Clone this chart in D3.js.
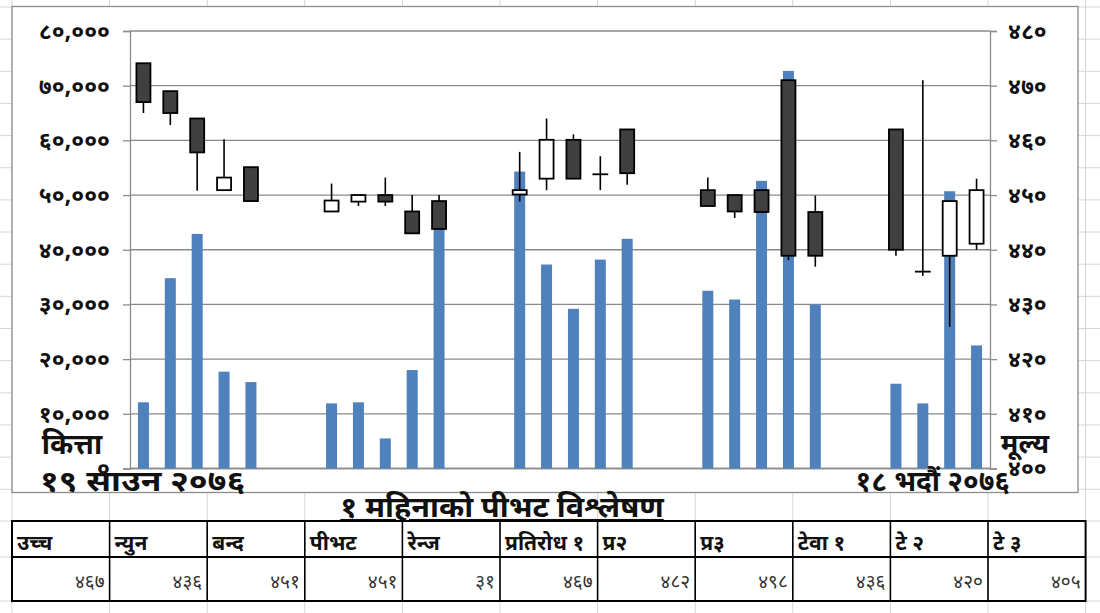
<!DOCTYPE html>
<html><head><meta charset="utf-8">
<script src="https://cdn.jsdelivr.net/npm/d3@7/dist/d3.min.js"></script>
<style>
html,body{margin:0;padding:0;background:#fff;}
svg{display:block;}
text{font-family:"Noto Sans Devanagari","Noto Serif Devanagari","Lohit Devanagari","Mangal","FreeSans","Noto Sans",sans-serif;}
</style></head>
<body>
<svg id="c" width="1100" height="613"></svg>
<script>
// ---- data ----
const categories = ["१९ साउन","२० साउन","२१ साउन","२२ साउन","२३ साउन","२४ साउन","२५ साउन","२६ साउन",
  "२७ साउन","२८ साउन","२९ साउन","३० साउन","३१ साउन","३२ साउन","१ भदौ","२ भदौ","३ भदौ","४ भदौ",
  "५ भदौ","६ भदौ","७ भदौ","८ भदौ","९ भदौ","१० भदौ","११ भदौ","१२ भदौ","१३ भदौ","१४ भदौ","१५ भदौ",
  "१६ भदौ","१७ भदौ","१८ भदौ"];
const volume = [12100,34800,42900,17700,15800,null,null,11900,12100,5500,18000,44000,null,null,
  54300,37300,29200,38200,42000,null,null,32500,30900,52600,72700,30000,null,null,15500,11900,50700,22500];
const open  = [474.1,469.0,464.0,450.9,455.1,null,null,447.0,448.8,450.0,447.0,448.9,null,null,
  450.1,453.0,460.1,453.8,462.0,null,null,450.9,450.0,450.9,471.0,446.9,null,null,462.0,436.0,438.9,441.1];
const high  = [474.1,469.0,464.0,460.2,455.1,null,null,452.1,450.0,453.2,450.0,450.0,null,null,
  457.9,464.0,461.1,457.1,462.0,null,null,453.2,450.0,450.9,471.0,449.9,null,null,462.0,471.0,448.9,453.0];
const low   = [465.0,462.8,450.8,450.9,448.9,null,null,447.0,448.0,448.0,443.0,443.8,null,null,
  448.8,450.9,453.0,450.9,451.9,null,null,448.0,445.8,446.9,438.1,436.9,null,null,438.9,435.2,425.9,440.0];
const close = [467.0,465.0,457.8,453.2,448.9,null,null,449.0,450.0,448.8,443.0,443.8,null,null,
  450.9,460.1,453.0,453.8,454.0,null,null,448.0,447.0,446.9,438.9,438.9,null,null,440.0,436.0,448.9,450.9];
const leftTicks = [0,10000,20000,30000,40000,50000,60000,70000,80000];
const leftTickLabels = ["०","१०,०००","२०,०००","३०,०००","४०,०००","५०,०००","६०,०००","७०,०००","८०,०००"];
const rightTicks = [400,410,420,430,440,450,460,470,480];
const rightTickLabels = ["४००","४१०","४२०","४३०","४४०","४५०","४६०","४७०","४८०"];
const leftAxisTitle = "कित्ता", rightAxisTitle = "मूल्य";
const startLabel = "१९ साउन २०७६", endLabel = "१८ भदौं २०७६";
const tableTitle = "१ महिनाको पीभट विश्लेषण";
const tableHeaders = ["उच्च","न्युन","बन्द","पीभट","रेन्ज","प्रतिरोध १","प्र२","प्र३","टेवा १","टे २","टे ३"];
const tableValues  = ["४६७","४३६","४५१","४५१","३१","४६७","४८२","४९८","४३६","४२०","४०५"];

// ---- layout ----
const svg = d3.select("#c");
const W = 1100, H = 613;
const plot = {l:130, r:990, t:31, b:468.5};
const colW = 97.6, col0 = 12;

// spreadsheet background grid
const sheet = svg.append("g").attr("stroke","#d6d6d6").attr("stroke-width",1);
const rowYs = d3.range(7, 490, 32.15).concat([521,557,601]);
rowYs.forEach(y=>sheet.append("line").attr("x1",0).attr("x2",W).attr("y1",y).attr("y2",y));
d3.range(0,12).forEach(i=>{const x=col0+i*colW; sheet.append("line").attr("x1",x).attr("x2",x).attr("y1",0).attr("y2",H);});

// chart box
svg.append("rect").attr("x",12).attr("y",6.5).attr("width",1066).attr("height",486)
  .attr("fill","#fff").attr("stroke","#8c8c8c").attr("stroke-width",1.3);

const x = d3.scaleBand().domain(categories).range([plot.l, plot.r]).padding(0);
const yL = d3.scaleLinear().domain([0,80000]).range([plot.b, plot.t]);
const yR = d3.scaleLinear().domain([400,480]).range([plot.b, plot.t]);

// gridlines
svg.append("g").selectAll("line").data(leftTicks).join("line")
  .attr("x1",plot.l).attr("x2",plot.r).attr("y1",d=>yL(d)).attr("y2",d=>yL(d))
  .attr("stroke","#8a8a8a").attr("stroke-width",1.3);

// axes
const ax = svg.append("g").attr("transform",`translate(${plot.l},0)`)
  .call(d3.axisLeft(yL).tickValues(leftTicks).tickFormat((d,i)=>leftTickLabels[i]).tickSize(7).tickPadding(13));
const axr = svg.append("g").attr("transform",`translate(${plot.r},0)`)
  .call(d3.axisRight(yR).tickValues(rightTicks).tickFormat((d,i)=>rightTickLabels[i]).tickSize(7).tickPadding(11));
[ax,axr].forEach(a=>{
  a.select(".domain").attr("stroke","#8a8a8a").attr("stroke-width",1.3);
  a.selectAll(".tick line").attr("stroke","#8a8a8a").attr("stroke-width",1.3);
  a.selectAll(".tick text").attr("font-size",23).attr("font-weight","bold").attr("fill","#111");
});
svg.append("line").attr("x1",plot.l).attr("x2",plot.r).attr("y1",plot.b).attr("y2",plot.b)
  .attr("stroke","#8a8a8a").attr("stroke-width",1.3);

// volume bars
const idx = d3.range(categories.length);
const barW = 11;
svg.append("g").selectAll("rect").data(idx.filter(i=>volume[i]!=null)).join("rect")
  .attr("x",i=>x(categories[i])+x.bandwidth()/2-barW/2).attr("width",barW)
  .attr("y",i=>yL(volume[i])).attr("height",i=>yL(0)-yL(volume[i]))
  .attr("fill","#4f81bd");

// candles
const cw = 14;
const cg = svg.append("g").selectAll("g").data(idx.filter(i=>open[i]!=null)).join("g");
cg.append("line")
  .attr("x1",i=>x(categories[i])+x.bandwidth()/2).attr("x2",i=>x(categories[i])+x.bandwidth()/2)
  .attr("y1",i=>yR(high[i])).attr("y2",i=>yR(low[i]))
  .attr("stroke","#000").attr("stroke-width",1.6);
cg.append("rect")
  .attr("x",i=>x(categories[i])+x.bandwidth()/2-cw/2).attr("width",cw)
  .attr("y",i=>yR(Math.max(open[i],close[i])))
  .attr("height",i=>Math.max(0.01,Math.abs(yR(open[i])-yR(close[i]))))
  .attr("fill",i=>close[i]<open[i]?"#404040":"#fff")
  .attr("stroke","#000").attr("stroke-width",1.8);

// axis titles and date labels
const lab = svg.append("g").attr("font-weight","bold").attr("fill","#111");
lab.append("text").attr("x",72).attr("y",454).attr("text-anchor","middle").attr("font-size",28).text(leftAxisTitle);
lab.append("text").attr("x",1025).attr("y",453).attr("text-anchor","middle").attr("font-size",27).text(rightAxisTitle);
lab.append("text").attr("transform","translate(40,491) scale(1.2,1)").attr("font-size",28).text(startLabel);
lab.append("text").attr("transform","translate(1010,491)").attr("text-anchor","end").attr("font-size",28).text(endLabel);

// table title
svg.append("text").attr("transform","translate(502,517) scale(1.05,1)").attr("text-anchor","middle")
  .attr("font-size",29).attr("font-weight","bold").attr("text-decoration","underline").attr("fill","#111")
  .text(tableTitle);

// table
const tb = svg.append("g");
const tTop = 521, tMid = 557, tBot = 601, tL = 12, tR = col0+11*colW;
tb.append("rect").attr("x",tL).attr("y",tTop).attr("width",tR-tL).attr("height",tBot-tTop)
  .attr("fill","none").attr("stroke","#000").attr("stroke-width",2);
tb.append("line").attr("x1",tL).attr("x2",tR).attr("y1",tMid).attr("y2",tMid).attr("stroke","#000").attr("stroke-width",2);
d3.range(1,11).forEach(i=>tb.append("line").attr("x1",col0+i*colW).attr("x2",col0+i*colW)
  .attr("y1",tTop).attr("y2",tBot).attr("stroke","#000").attr("stroke-width",1.6));
tb.selectAll("text.h").data(tableHeaders).join("text").attr("class","h")
  .attr("x",(d,i)=>col0+i*colW+5).attr("y",550).attr("font-size",21).attr("font-weight","bold").attr("fill","#111").text(d=>d);
tb.selectAll("text.v").data(tableValues).join("text").attr("class","v")
  .attr("x",(d,i)=>col0+(i+1)*colW-5).attr("y",588).attr("text-anchor","end").attr("font-size",19).attr("fill","#333").text(d=>d);
</script>
</body></html>
